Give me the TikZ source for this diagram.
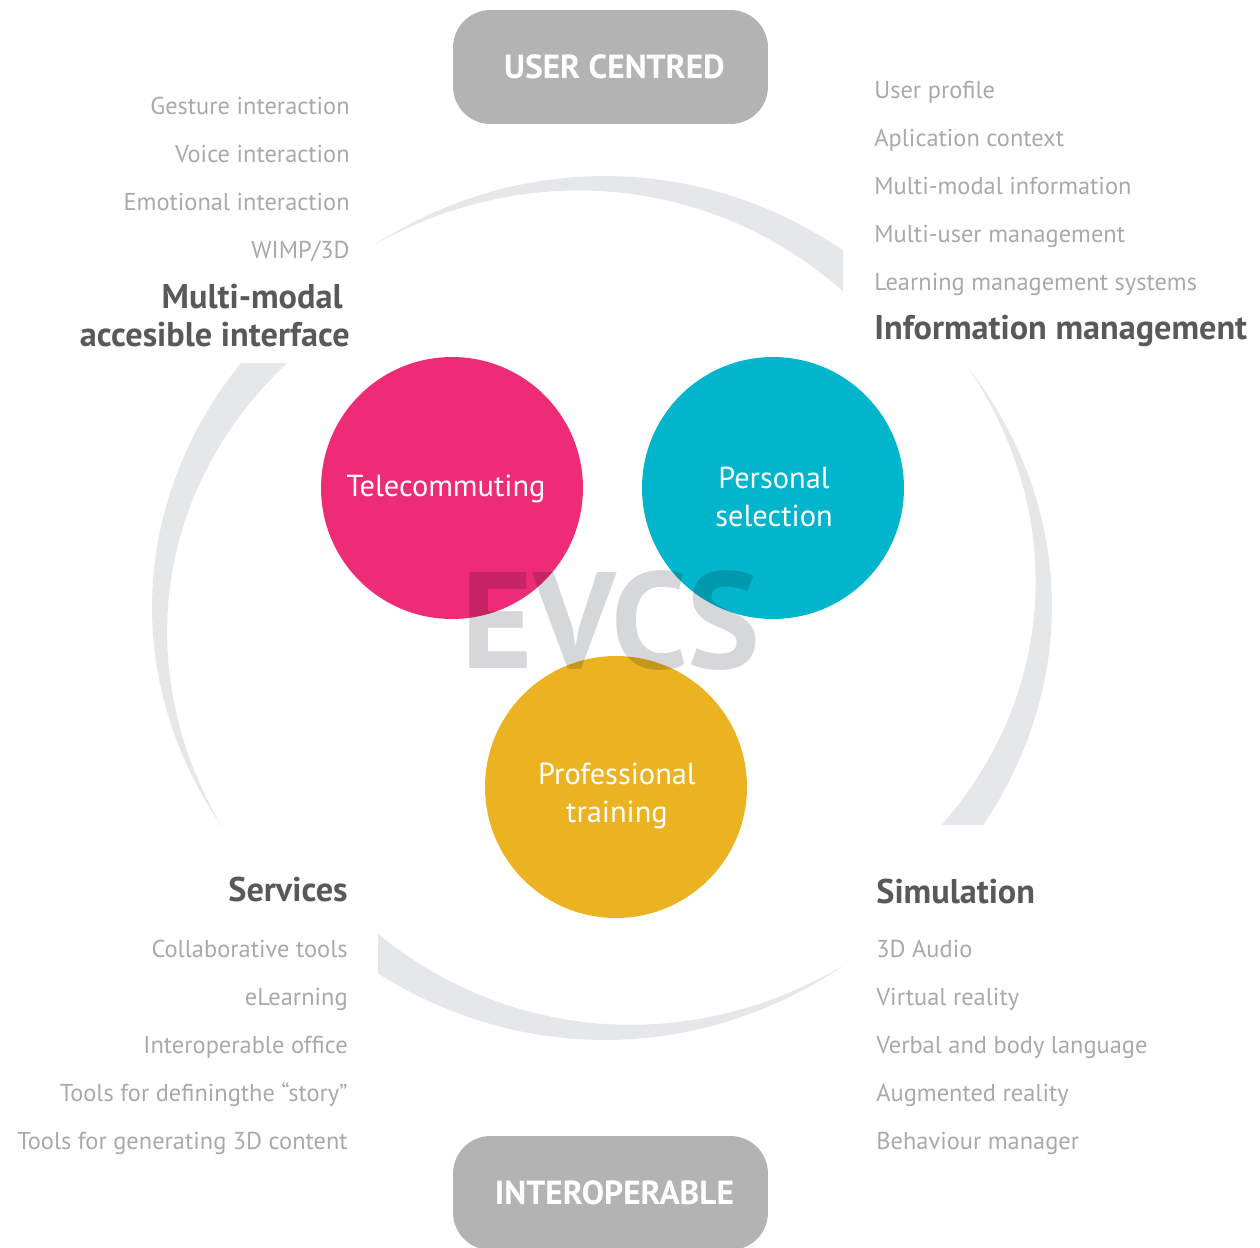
\documentclass[tikz,border=0pt]{standalone}
\usepackage{fontspec}
\setmainfont{PT Sans}
\usepackage{tikz}
\usepackage{xcolor}

\definecolor{ringgray}{RGB}{230,231,232}
\definecolor{taggray}{RGB}{179,179,179}
\definecolor{evcsgray}{RGB}{214,215,216}
\definecolor{headgray}{RGB}{88,89,91}
\definecolor{itemgray}{RGB}{167,169,172}
\definecolor{telepink}{RGB}{238,43,118}
\definecolor{perscyan}{RGB}{0,181,204}
\definecolor{profyellow}{RGB}{235,178,33}

\begin{document}
\begin{tikzpicture}[
            x=0.02cm, y=-0.02cm,
            declare function={outf(\t)=0.985+0.015*sin(180*\t); inf(\t)=outf(\t)-0.072*\t;},
            ring/.style={fill=ringgray, draw=none},
            tag/.style={rectangle, rounded corners=0.75cm, fill=taggray, text=white,
                minimum width=6.3cm, minimum height=2.28cm, inner sep=0pt,
                font=\fontsize{19}{22}\selectfont\bfseries},
            bubble/.style={circle, minimum size=5.24cm, inner sep=0pt},
            bubbletext/.style={text=white, align=center, inner sep=0pt,
                font=\fontsize{17.3}{21.5}\selectfont},
            head/.style={text=headgray, inner sep=0pt, font=\fontsize{19.5}{21.5}\selectfont\bfseries},
            item/.style={text=itemgray, inner sep=0pt, font=\fontsize{13.9}{16}\selectfont},
        ]
            \useasboundingbox (0,0) rectangle (1260,1247);

            % swooshes round the middle
            \begin{scope}
                \clip (0,0) rectangle (843,1247);
                \fill[ring] plot[domain=0:1.15, samples=60] ({604+448*outf(\x)*cos(-121.4+64*\x)}, {608+432*outf(\x)*sin(-121.4+64*\x)})
                    -- plot[domain=1.15:0, samples=60] ({604+448*inf(\x)*cos(-121.4+64*\x)}, {608+432*inf(\x)*sin(-121.4+64*\x)}) -- cycle;
            \end{scope}
            \begin{scope}
                \clip (0,0) rectangle (1260,824);
                \fill[ring] plot[domain=0:1.15, samples=60] ({604+448*outf(\x)*cos(-34.3+64*\x)}, {608+432*outf(\x)*sin(-34.3+64*\x)})
                    -- plot[domain=1.15:0, samples=60] ({604+448*inf(\x)*cos(-34.3+64*\x)}, {608+432*inf(\x)*sin(-34.3+64*\x)}) -- cycle;
            \end{scope}
            \begin{scope}
                \clip (378,0) rectangle (1260,1247);
                \fill[ring] plot[domain=0:1.15, samples=60] ({604+448*outf(\x)*cos(56.9+64*\x)}, {608+432*outf(\x)*sin(56.9+64*\x)})
                    -- plot[domain=1.15:0, samples=60] ({604+448*inf(\x)*cos(56.9+64*\x)}, {608+432*inf(\x)*sin(56.9+64*\x)}) -- cycle;
            \end{scope}
            \begin{scope}
                \clip (0,363) rectangle (1260,1247);
                \fill[ring] plot[domain=0:1.15, samples=60] ({604+452*outf(\x)*cos(148.8+64*\x)}, {608+432*outf(\x)*sin(148.8+64*\x)})
                    -- plot[domain=1.15:0, samples=60] ({604+452*inf(\x)*cos(148.8+64*\x)}, {608+432*inf(\x)*sin(148.8+64*\x)}) -- cycle;
            \end{scope}

            % tags
            \node[tag] (usercentred) at (610.5,67) {\hspace*{0.16cm}USER CENTRED};
            \node[tag] (interoperable) at (610.5,1193) {\hspace*{0.16cm}INTEROPERABLE};

            % circles
            \node[bubble, fill=telepink] (telecommuting) at (452,488) {};
            \node[bubble, fill=perscyan] (personal) at (773,488) {};
            \node[bubble, fill=profyellow] (professional) at (616,787) {};
            \node[bubbletext] (teletext) at (446,489) {Telecommuting};
            \node[bubbletext] (perstext) at (774,497) {Personal\\selection};
            \node[bubbletext] (proftext) at (617,796) {Professional\\training};

            \begin{scope}[blend mode=multiply]
                \node[text=evcsgray, inner sep=0pt, font=\fontsize{78}{78}\selectfont\bfseries] (evcs) at (611,621) {EVCS};
            \end{scope}

            % multi-modal interface
            \node[item, anchor=base east] (gesture) at (350,114) {Gesture interaction};
            \node[item, anchor=base east] (voice) at (350,162) {Voice interaction};
            \node[item, anchor=base east] (emotional) at (350,210) {Emotional interaction};
            \node[item, anchor=base east] (wimp) at (350,258) {WIMP/3D};
            \node[head, anchor=base east] (multimodal) at (343,308) {Multi-modal};
            \node[head, anchor=base east] (accesible) at (350,346) {accesible interface};

            % information management
            \node[item, anchor=base west] (userprofile) at (874,98) {User profile};
            \node[item, anchor=base west] (aplication) at (874,146) {Aplication context};
            \node[item, anchor=base west] (mminfo) at (874,194) {Multi-modal information};
            \node[item, anchor=base west] (multiuser) at (874,242) {Multi-user management};
            \node[item, anchor=base west] (lms) at (874,290) {Learning management systems};
            \node[head, anchor=base west] (infomgmt) at (874,339) {Information management};

            % services
            \node[head, anchor=base east] (services) at (348,901) {Services};
            \node[item, anchor=base east] (collab) at (348,957) {Collaborative tools};
            \node[item, anchor=base east] (elearning) at (348,1005) {eLearning};
            \node[item, anchor=base east] (office) at (348,1053) {Interoperable office};
            \node[item, anchor=base east] (story) at (348,1101) {Tools for definingthe “story”};
            \node[item, anchor=base east] (content) at (348,1149) {Tools for generating 3D content};

            % simulation
            \node[head, anchor=base west] (simulation) at (876,903) {Simulation};
            \node[item, anchor=base west] (audio) at (876,957) {3D Audio};
            \node[item, anchor=base west] (virtual) at (876,1005) {Virtual reality};
            \node[item, anchor=base west] (verbal) at (876,1053) {Verbal and body language};
            \node[item, anchor=base west] (augmented) at (876,1101) {Augmented reality};
            \node[item, anchor=base west] (behaviour) at (876,1149) {Behaviour manager};
        \end{tikzpicture}
\end{document}
